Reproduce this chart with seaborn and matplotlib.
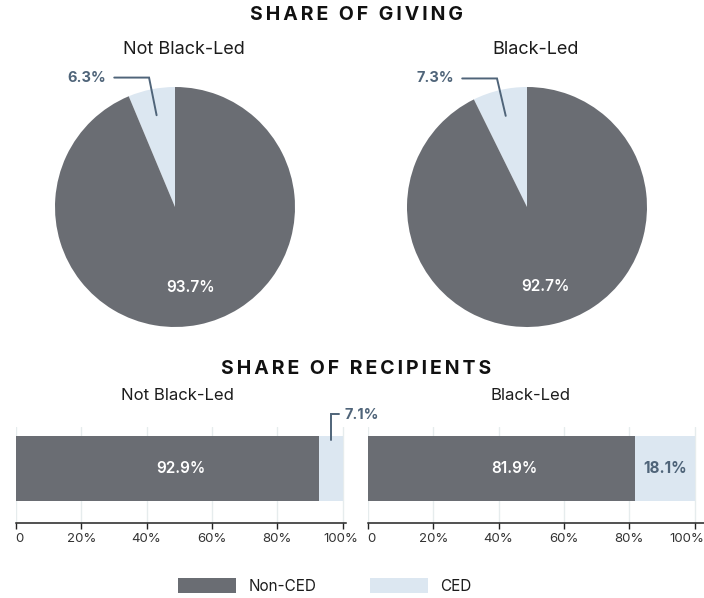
import matplotlib
matplotlib.use("Agg")
import matplotlib.pyplot as plt
from matplotlib.patches import Patch
from matplotlib.transforms import ScaledTranslation
import seaborn as sns
import numpy as np
import pandas as pd

# ---------------- data ----------------
groups = ["Not Black-Led", "Black-Led"]
segments = ["Non-CED", "CED"]
giving_non_ced = [93.7, 92.7]
giving_ced = [6.3, 7.3]
recip_non_ced = [92.9, 81.9]
recip_ced = [7.1, 18.1]
x_ticks = [0, 20, 40, 60, 80, 100]
x_tick_labels = ["0", "20%", "40%", "60%", "80%", "100%"]
title_giving = "SHARE OF GIVING"
title_recip = "SHARE OF RECIPIENTS"

# ---------------- style ----------------
DARK = "#6a6d73"
LIGHT = "#dce7f1"
LABEL = "#4f6479"
TEXT = "#1c1c1c"
GRID = "#e6eced"

sns.set_theme(style="white")
plt.rcParams["font.family"] = ["Inter", "DejaVu Sans"]

W, H = 704, 598
fig = plt.figure(figsize=(W / 100, H / 100), dpi=100)


def fx(px):
    return px / W


def fy(py):
    return 1 - py / H


def spaced(s):
    return "\u2009".join(list(s))


# ---------------- titles ----------------
fig.text(fx(357), fy(15), spaced(title_giving), ha="center", va="center",
         fontsize=14, fontweight="bold", color="#111111")
fig.text(fx(356), fy(369), spaced(title_recip), ha="center", va="center",
         fontsize=14, fontweight="bold", color="#111111")

# ---------------- pies ----------------
R = 120
S = 1.45
pie_centers = [175, 527]
pie_sub_x = [184, 536]
for i, cx in enumerate(pie_centers):
    cy = 207
    ax = fig.add_axes([fx(cx - S * R), fy(cy + S * R), 2 * S * R / W, 2 * S * R / H])
    wedges, _ = ax.pie([giving_ced[i], giving_non_ced[i]], colors=[LIGHT, DARK],
                       startangle=90, counterclock=True, radius=1,
                       wedgeprops=dict(linewidth=0))
    ax.set_xlim(-S, S)
    ax.set_ylim(-S, S)
    ax.set_aspect("equal")
    ax.axis("off")

    # Non-CED label inside
    w = wedges[1]
    mid = np.deg2rad((w.theta1 + w.theta2) / 2)
    ax.text(0.68 * np.cos(mid), 0.68 * np.sin(mid), f"{giving_non_ced[i]:.1f}%",
            ha="center", va="center", color="white", fontsize=11, fontweight="semibold")

    # CED label with leader line
    w = wedges[0]
    mid = np.deg2rad((w.theta1 + w.theta2) / 2)
    p0 = (0.78 * np.cos(mid), 0.78 * np.sin(mid))
    p1 = (1.1 * np.cos(mid), 1.1 * np.sin(mid))
    p2 = (p1[0] - 0.29, p1[1])
    ax.plot([p0[0], p1[0], p2[0]], [p0[1], p1[1], p2[1]], color=LABEL, lw=1.4,
            clip_on=False, solid_joinstyle="miter")
    ax.text(p2[0] - 0.065, p2[1], f"{giving_ced[i]:.1f}%", ha="right", va="center",
            color=LABEL, fontsize=10.5, fontweight="bold")

    fig.text(fx(pie_sub_x[i]), fy(49), groups[i], ha="center", va="center",
             fontsize=13, color=TEXT)

# ---------------- bars ----------------
PXU = 326.5 / 100.0
bar_x0 = [16, 368]
bar_xmax = [101, 103]
bar_sub_x = [177.5, 530]
last_shift = [-2, -8]
for i in range(2):
    ax = fig.add_axes([fx(bar_x0[i]), fy(523), bar_xmax[i] * PXU / W, 96 / H])
    df = pd.DataFrame({"group": [groups[i]],
                       "total": [recip_non_ced[i] + recip_ced[i]],
                       "non": [recip_non_ced[i]]})
    sns.barplot(data=df, x="total", y="group", color=LIGHT, saturation=1,
                width=0.8, linewidth=0, ax=ax)
    sns.barplot(data=df, x="non", y="group", color=DARK, saturation=1,
                width=0.8, linewidth=0, ax=ax)
    ax.set_xlim(0, bar_xmax[i])
    ax.set_ylim(0.671, -0.511)
    ax.set_xlabel("")
    ax.set_ylabel("")
    ax.set_yticks([])
    ax.set_xticks(x_ticks)
    ax.set_xticklabels(x_tick_labels)
    ax.xaxis.grid(True, color=GRID, lw=1)
    ax.yaxis.grid(False)
    ax.set_axisbelow(True)
    for s in ["top", "left", "right"]:
        ax.spines[s].set_visible(False)
    ax.spines["bottom"].set_color("#222222")
    ax.spines["bottom"].set_linewidth(1.1)
    ax.tick_params(axis="x", direction="out", length=4, width=1, color="#222222",
                   labelsize=9.5, labelcolor="#333333", pad=3, bottom=True)
    lbls = ax.get_xticklabels()
    lbls[-1].set_transform(lbls[-1].get_transform() +
                           ScaledTranslation(last_shift[i] / 100, 0, fig.dpi_scale_trans))
    lbls[0].set_transform(lbls[0].get_transform() +
                          ScaledTranslation(3 / 100, 0, fig.dpi_scale_trans))

    # labels
    ax.text(recip_non_ced[i] / 2 + 4, 0, f"{recip_non_ced[i]:.1f}%", ha="center",
            va="center", color="white", fontsize=11, fontweight="semibold")
    ced_mid = recip_non_ced[i] + recip_ced[i] / 2
    if recip_ced[i] >= 10:
        ax.text(ced_mid, 0, f"{recip_ced[i]:.1f}%", ha="center", va="center",
                color=LABEL, fontsize=11, fontweight="bold")
    else:
        ax.plot([ced_mid, ced_mid, ced_mid + 2.5], [-0.351, -0.671, -0.671],
                color=LABEL, lw=1.4, clip_on=False, solid_joinstyle="miter")
        ax.text(ced_mid + 4.3, -0.66, f"{recip_ced[i]:.1f}%", ha="left", va="center",
                color=LABEL, fontsize=10.5, fontweight="bold", clip_on=False)

    fig.text(fx(bar_sub_x[i]), fy(396), groups[i], ha="center", va="center",
             fontsize=12, color=TEXT)

# ---------------- legend ----------------
handles = [Patch(facecolor=DARK, edgecolor="none"), Patch(facecolor=LIGHT, edgecolor="none")]
fig.legend(handles=handles, labels=segments, loc="center",
           bbox_to_anchor=(fx(325), fy(586)), ncol=2, frameon=False, fontsize=11,
           handlelength=3.8, handleheight=1.05, handletextpad=0.8, columnspacing=3.5,
           labelcolor=TEXT)

fig.savefig("out.png", dpi=100)
